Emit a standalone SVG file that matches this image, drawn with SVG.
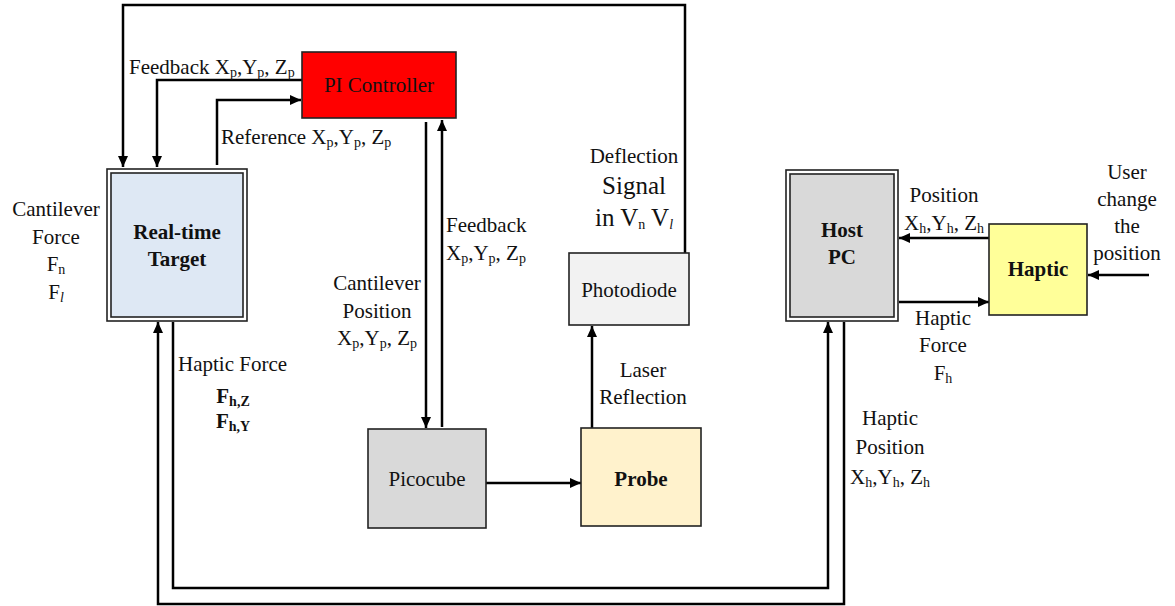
<svg xmlns="http://www.w3.org/2000/svg" width="1175" height="606" viewBox="0 0 1175 606" font-family="Liberation Serif, DejaVu Serif, serif">
<style>
text{font-family:'Liberation Serif','DejaVu Serif',serif;font-size:21px;fill:#111}
.b{font-weight:bold}
.c{text-anchor:middle}
.s{font-size:14px}
.big{font-size:25px}
.box{stroke:#222;stroke-width:1.6}
.ln{fill:none;stroke:#000;stroke-width:2.5}
.ar{marker-end:url(#ah)}
</style>
<defs>
<marker id="ah" markerUnits="userSpaceOnUse" markerWidth="12" markerHeight="10" refX="11" refY="5" orient="auto">
<path d="M0,0 L11,5 L0,10 z" fill="#000"/>
</marker>
</defs>

<g id="connectors">
<path class="ln ar" d="M685,253 V5 H123 V167"/>
<path class="ln ar" d="M302,80 H157 V167"/>
<path class="ln ar" d="M217,165 V100 H301"/>
<path class="ln ar" d="M426,122 V428"/>
<path class="ln ar" d="M442,427 V120"/>
<path class="ln ar" d="M486,483 H581"/>
<path class="ln ar" d="M592,428 V326"/>
<path class="ln ar" d="M173,322 V588 H828 V322"/>
<path class="ln ar" d="M844,322 V604 H158 V322"/>
<path class="ln ar" d="M989,238 H899"/>
<path class="ln ar" d="M899,302 H989"/>
<path class="ln ar" d="M1149,275 H1088"/>
</g>

<g id="pi-controller">
<rect class="box" x="302" y="52" width="154" height="66" fill="#ff0000"/>
<text class="c" x="379" y="92">PI Controller</text>
</g>

<g id="realtime-target">
<rect class="box" x="107" y="169" width="140" height="152" fill="#fff"/>
<rect class="box" x="111" y="173" width="132" height="144" fill="#dee8f4"/>
<text class="c b" x="177" y="239">Real-time</text>
<text class="c b" x="177" y="266">Target</text>
</g>

<g id="photodiode">
<rect class="box" x="569" y="253" width="120" height="72" fill="#f2f2f2"/>
<text class="c" x="629" y="297">Photodiode</text>
</g>

<g id="picocube">
<rect class="box" x="368" y="429" width="118" height="99" fill="#d9d9d9"/>
<text class="c" x="427" y="486">Picocube</text>
</g>

<g id="probe">
<rect class="box" x="581" y="428" width="120" height="98" fill="#fff2cc"/>
<text class="c b" x="641" y="486">Probe</text>
</g>

<g id="host-pc">
<rect class="box" x="786" y="170" width="112" height="151" fill="#fff"/>
<rect class="box" x="790" y="174" width="104" height="143" fill="#d9d9d9"/>
<text class="c b" x="842" y="237">Host</text>
<text class="c b" x="842" y="264">PC</text>
</g>

<g id="haptic">
<rect class="box" x="989" y="224" width="98" height="91" fill="#ffff99"/>
<text class="c b" x="1038" y="276">Haptic</text>
</g>

<g id="labels">
<text x="129" y="74">Feedback X<tspan class="s" dy="3">p</tspan><tspan dy="-3">,Y</tspan><tspan class="s" dy="3">p</tspan><tspan dy="-3">, Z</tspan><tspan class="s" dy="3">p</tspan></text>
<text x="221" y="144">Reference X<tspan class="s" dy="3">p</tspan><tspan dy="-3">,Y</tspan><tspan class="s" dy="3">p</tspan><tspan dy="-3">, Z</tspan><tspan class="s" dy="3">p</tspan></text>

<text class="c" x="56" y="216">Cantilever</text>
<text class="c" x="56" y="244">Force</text>
<text class="c" x="56" y="271">F<tspan class="s" dy="3">n</tspan></text>
<text class="c" x="56" y="299">F<tspan class="s" dy="3" font-style="italic">l</tspan></text>

<text x="178" y="371">Haptic Force</text>
<text class="c b" x="233" y="403">F<tspan class="s" dy="3">h,Z</tspan></text>
<text class="c b" x="233" y="428">F<tspan class="s" dy="3">h,Y</tspan></text>

<text class="c" x="377" y="290">Cantilever</text>
<text class="c" x="377" y="318">Position</text>
<text class="c" x="377" y="345">X<tspan class="s" dy="3">p</tspan><tspan dy="-3">,Y</tspan><tspan class="s" dy="3">p</tspan><tspan dy="-3">, Z</tspan><tspan class="s" dy="3">p</tspan></text>

<text x="446" y="232">Feedback</text>
<text x="446" y="260">X<tspan class="s" dy="3">p</tspan><tspan dy="-3">,Y</tspan><tspan class="s" dy="3">p</tspan><tspan dy="-3">, Z</tspan><tspan class="s" dy="3">p</tspan></text>

<text class="c" x="634" y="163">Deflection</text>
<text class="c big" x="634" y="194">Signal</text>
<text class="c big" x="634" y="226">in V<tspan class="s" dy="3">n</tspan><tspan dy="-3"> V</tspan><tspan class="s" dy="3" font-style="italic">l</tspan></text>

<text class="c" x="643" y="377">Laser</text>
<text class="c" x="643" y="404">Reflection</text>

<text class="c" x="944" y="202">Position</text>
<text class="c" x="944" y="230">X<tspan class="s" dy="3">h</tspan><tspan dy="-3">,Y</tspan><tspan class="s" dy="3">h</tspan><tspan dy="-3">, Z</tspan><tspan class="s" dy="3">h</tspan></text>

<text class="c" x="1127" y="179">User</text>
<text class="c" x="1127" y="206">change</text>
<text class="c" x="1127" y="233">the</text>
<text class="c" x="1127" y="260">position</text>

<text class="c" x="943" y="325">Haptic</text>
<text class="c" x="943" y="352">Force</text>
<text class="c" x="943" y="380">F<tspan class="s" dy="3">h</tspan></text>

<text class="c" x="890" y="425">Haptic</text>
<text class="c" x="890" y="454">Position</text>
<text class="c" x="890" y="484">X<tspan class="s" dy="3">h</tspan><tspan dy="-3">,Y</tspan><tspan class="s" dy="3">h</tspan><tspan dy="-3">, Z</tspan><tspan class="s" dy="3">h</tspan></text>
</g>
</svg>
